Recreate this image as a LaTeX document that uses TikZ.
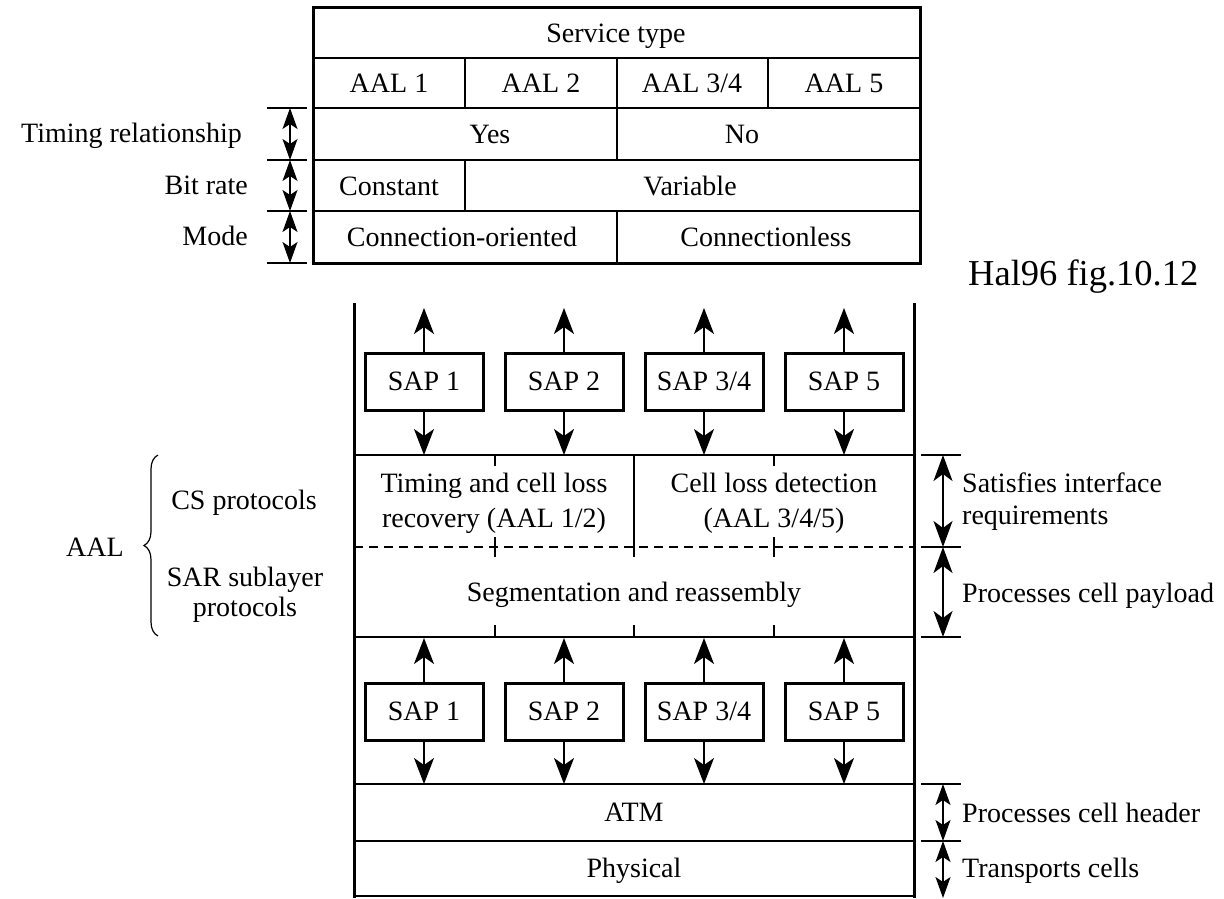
\documentclass[tikz,border=0pt]{standalone}
\usepackage{fontspec}
\setmainfont{Liberation Serif}
\usetikzlibrary{arrows.meta,decorations.pathreplacing}
\begin{document}
\begin{tikzpicture}[x=1pt,y=-1pt,
  txt/.style={font=\fontsize{28}{32}\selectfont, inner sep=0pt, text height=18.5pt, text depth=0pt},
  rule/.style={line width=1.6pt},
  frame/.style={line width=3pt},
  sapbox/.style={draw, line width=3pt, minimum width=118pt, minimum height=57pt,
    inner sep=0pt, font=\fontsize{28}{32}\selectfont, text height=18.5pt, text depth=0pt},
  bighead/.style={Stealth[length=26pt,width=20pt,inset=7pt]},
  smallhead/.style={Stealth[length=21pt,width=15pt,inset=5pt]},
  head/.style={-{Stealth[length=26pt,width=20pt,inset=7pt]}, line width=1.6pt},
  bigarrow/.style={line width=1.6pt,
    {Stealth[length=26pt,width=19pt,inset=7pt]}-{Stealth[length=26pt,width=19pt,inset=7pt]}},
  smallarrow/.style={line width=1.6pt,
    {Stealth[length=21pt,width=15pt,inset=5pt]}-{Stealth[length=21pt,width=15pt,inset=5pt]}},
]
\useasboundingbox (0,0) rectangle (1224,898);

% ---------------- Service type table ----------------
\draw[frame] (313,7) rectangle (920,263);
\foreach \y in {58,108,160,211} \draw[rule] (313,\y) -- (920,\y);
\foreach \x in {465,617,768} \draw[rule] (\x,58) -- (\x,108);
\draw[rule] (617,108) -- (617,160);
\draw[rule] (465,160) -- (465,211);
\draw[rule] (617,211) -- (617,263);

\node[txt] (svc) at (616,33) {Service type};
\node[txt] (aal1) at (389,83) {AAL 1};
\node[txt] (aal2) at (541,83) {AAL 2};
\node[txt] (aal34) at (692,83) {AAL 3/4};
\node[txt] (aal5) at (844,83) {AAL 5};
\node[txt] (yes) at (490,134) {Yes};
\node[txt] (no) at (742,134) {No};
\node[txt] (const) at (389,186) {Constant};
\node[txt] (var) at (690,186) {Variable};
\node[txt] (co) at (462,237) {Connection-oriented};
\node[txt] (cl) at (766,237) {Connectionless};

% row labels with dimension arrows
\foreach \y in {108,160,211,263} \draw[rule] (267,\y) -- (307,\y);
\coordinate (la) at (290,108);
\coordinate (lb) at (290,160);
\coordinate (lc) at (290,211);
\coordinate (ld) at (290,263);
\draw[smallarrow] (la) -- (lb);
\draw[smallarrow] (lb) -- (lc);
\draw[smallarrow] (lc) -- (ld);
\node[txt, anchor=east] (timing) at (242,133) {Timing relationship};
\node[txt, anchor=east] (bitrate) at (248,185) {Bit rate};
\node[txt, anchor=east] (mode) at (248,236) {Mode};

\node[font=\fontsize{36.5}{40}\selectfont, inner sep=0pt, anchor=base west] (cap) at (968,285) {Hal96 fig.10.12};

% ---------------- Protocol stack ----------------
\draw[frame] (354,303) -- (354,898);
\draw[frame] (914,303) -- (914,898);
\draw[line width=2pt] (354,896) -- (914,896);

% horizontal boundaries
\draw[rule] (354,455) -- (914,455);
\draw[rule, dash pattern=on 9pt off 6pt] (354,547) -- (914,547);
\draw[rule] (354,637) -- (914,637);
\draw[rule] (354,784) -- (914,784);
\draw[rule] (354,841) -- (914,841);

% CS / SAR internal divisions
\draw[rule] (634,455) -- (634,557);
\foreach \x in {495,774} {
  \draw[rule] (\x,455) -- (\x,466);
  \draw[rule] (\x,537) -- (\x,557);
}
\foreach \x in {495,634,774} \draw[rule] (\x,625) -- (\x,637);

% upper service access points
\foreach \i/\x/\t in {1/424/{SAP 1}, 2/564/{SAP 2}, 3/704/{SAP 3/4}, 4/844/{SAP 5}} {
  \node[sapbox] (us\i) at (\x,381.5) {\t};
  \coordinate (ut\i) at (\x,308);
  \coordinate (ub\i) at (\x,455);
  \draw[head] (us\i.north) -- (ut\i);
  \draw[head] (us\i.south) -- (ub\i);
}

% lower service access points
\foreach \i/\x/\t in {1/424/{SAP 1}, 2/564/{SAP 2}, 3/704/{SAP 3/4}, 4/844/{SAP 5}} {
  \node[sapbox] (ls\i) at (\x,711.5) {\t};
  \coordinate (lt\i) at (\x,638);
  \coordinate (lb\i) at (\x,784);
  \draw[head] (ls\i.north) -- (lt\i);
  \draw[head] (ls\i.south) -- (lb\i);
}

\node[txt] (cs1) at (494,483) {Timing and cell loss};
\node[txt] (cs2) at (494,518) {recovery (AAL 1/2)};
\node[txt] (cd1) at (774,483) {Cell loss detection};
\node[txt] (cd2) at (774,518) {(AAL 3/4/5)};
\node[txt] (sar) at (634,592) {Segmentation and reassembly};
\node[txt] (atm) at (634,812) {ATM};
\node[txt] (phy) at (634,868) {Physical};

% right-hand dimension marks
\foreach \y in {455,547,637,784,841} \draw[rule] (921,\y) -- (961,\y);
\coordinate (ra) at (943,455);
\coordinate (rb) at (943,547);
\coordinate (rc) at (943,637);
\coordinate (rd) at (943,784);
\coordinate (re) at (943,841);
\coordinate (rf) at (943,898);
\draw[bigarrow] (ra) -- (rb);
\draw[bigarrow] (rb) -- (rc);
\draw[smallarrow] (rd) -- (re);
\draw[smallarrow] (re) -- (rf);
\node[txt, anchor=west] (sat1) at (962,483) {Satisfies interface};
\node[txt, anchor=west] (sat2) at (962,515) {requirements};
\node[txt, anchor=west] (pay) at (962,593) {Processes cell payload};
\node[txt, anchor=west] (hdr) at (962,813) {Processes cell header};
\node[txt, anchor=west] (trn) at (962,868) {Transports cells};

% AAL brace on the left
\draw[decorate, decoration={brace, amplitude=14pt}, line width=1.2pt] (158,636) -- (158,455);
\node[txt] (aal) at (95,547) {AAL};
\node[txt] (csp) at (244,500) {CS protocols};
\node[txt] (sarp1) at (245,577) {SAR sublayer};
\node[txt] (sarp2) at (245,607) {protocols};
\end{tikzpicture}
\end{document}
